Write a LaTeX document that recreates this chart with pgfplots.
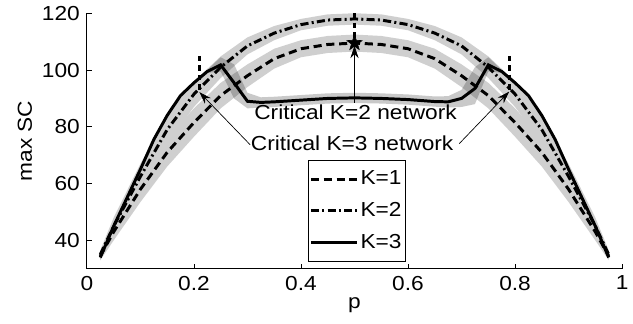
\documentclass[border=0pt]{standalone}
\usepackage{fontspec}
\setmainfont{Liberation Sans}[FakeStretch=1.12]
\usepackage{pgfplots}
\pgfplotsset{compat=1.18}
\usepackage{pgfplotstable}
\usepgfplotslibrary{fillbetween}
\usetikzlibrary{arrows.meta}

\pgfdeclareplotmark{pentagram}{%
  \pgfpathmoveto{\pgfpointpolar{90}{\pgfplotmarksize}}%
  \pgfpathlineto{\pgfpointpolar{126}{0.4\pgfplotmarksize}}%
  \pgfpathlineto{\pgfpointpolar{162}{\pgfplotmarksize}}%
  \pgfpathlineto{\pgfpointpolar{198}{0.4\pgfplotmarksize}}%
  \pgfpathlineto{\pgfpointpolar{234}{\pgfplotmarksize}}%
  \pgfpathlineto{\pgfpointpolar{270}{0.4\pgfplotmarksize}}%
  \pgfpathlineto{\pgfpointpolar{306}{\pgfplotmarksize}}%
  \pgfpathlineto{\pgfpointpolar{342}{0.4\pgfplotmarksize}}%
  \pgfpathlineto{\pgfpointpolar{18}{\pgfplotmarksize}}%
  \pgfpathlineto{\pgfpointpolar{54}{0.4\pgfplotmarksize}}%
  \pgfpathclose
  \pgfusepathqfillstroke
}

% K=1: p, mean, std
\pgfplotstableread{
p m s
0.025 34.5 1.5
0.05 43 3
0.1 58 4.5
0.15 71 5
0.2 81.5 5
0.25 91 4.5
0.3 98 4
0.35 104 3.5
0.4 107.5 3
0.45 109 3
0.5 109.5 3
0.55 109 3
0.6 107.5 3
0.65 104 3.5
0.7 98 4
0.75 91 4.5
0.8 81.5 5
0.85 71 5
0.9 58 4.5
0.95 43 3
0.975 34.5 1.5
}\kone

% K=2: p, mean, std
\pgfplotstableread{
p m s
0.025 35 1.5
0.05 45 3
0.1 62.5 4.5
0.15 79 5
0.2 91.5 4.5
0.25 101 3.8
0.3 108.5 3
0.35 113 2.5
0.4 116 2
0.45 117.6 2
0.5 118 2
0.55 117.6 2
0.6 116 2
0.65 113 2.5
0.7 108.5 3
0.75 101 3.8
0.8 91.5 4.5
0.85 79 5
0.9 62.5 4.5
0.95 45 3
0.975 35 1.5
}\ktwo

% K=3: p, mean, lower, upper
\pgfplotstableread{
p m lo hi
0.025 34 33.5 34.5
0.05 45 44.5 45.5
0.1 65 64.5 65.5
0.125 75.5 75 76
0.15 84 83.5 84.5
0.175 91 90.5 91.5
0.2 95.5 95 96
0.225 99.5 99 100
0.25 101.8 99.5 104.5
0.275 95.5 90 102
0.3 89 86.5 92
0.325 88.6 86.8 90.4
0.35 88.8 87 90.6
0.4 89.4 87.6 91.2
0.45 90 88.2 91.8
0.5 90.2 88.4 92
0.55 90 88.2 91.8
0.6 89.6 87.8 91.4
0.65 88.9 87.1 90.7
0.675 88.8 86.8 90.8
0.7 90 87 93
0.725 93.5 88 101
0.75 101.8 99.5 104.5
0.775 99.5 99 100
0.8 95.5 95 96
0.825 91 90.5 91.5
0.85 84 83.5 84.5
0.875 75.5 75 76
0.9 65 64.5 65.5
0.95 45 44.5 45.5
0.975 34 33.5 34.5
}\kthree

\begin{document}%
\fontsize{15}{18}\selectfont%
\begin{tikzpicture}
\begin{axis}[
  at={(0pt,0pt)}, anchor=south west,
  scale only axis,
  width=396.2pt, height=189.2pt,
  xmin=0, xmax=1, ymin=30, ymax=120,
  axis lines*=left,
  axis line style={black, line width=0.6pt},
  tick align=inside,
  major tick length=3.8pt,
  tick style={black, line width=0.6pt},
  xtick={0,0.2,0.4,0.6,0.8,1},
  ytick={40,60,80,100,120},
  /pgf/number format/assume math mode=true,
  xlabel={p}, ylabel={max SC},
  xlabel style={at={(axis description cs:0.5,-0.1554)}, anchor=base},
  ylabel style={at={(axis description cs:-0.1158,0.5)}, anchor=center},
  legend style={at={(axis description cs:0.4125,0.0277)}, anchor=south west,
    draw=black, line width=0.6pt, fill=white, inner xsep=1pt, inner ysep=6pt,
    row sep=7.8pt, nodes={inner sep=1.5pt}},
  legend cell align=left,
  legend image code/.code={\draw[#1] (0cm,0cm) -- (1.2cm,0cm);},
]
% bands
\addplot[draw=none, name path=aH, forget plot] table[x=p, y expr=\thisrow{m}+\thisrow{s}] {\kone};
\addplot[draw=none, name path=aL, forget plot] table[x=p, y expr=\thisrow{m}-\thisrow{s}] {\kone};
\addplot[black!19, forget plot] fill between[of=aH and aL];
\addplot[draw=none, name path=bH, forget plot] table[x=p, y expr=\thisrow{m}+\thisrow{s}] {\ktwo};
\addplot[draw=none, name path=bL, forget plot] table[x=p, y expr=\thisrow{m}-\thisrow{s}] {\ktwo};
\addplot[black!19, forget plot] fill between[of=bH and bL];
\addplot[draw=none, name path=cH, forget plot] table[x=p, y=hi] {\kthree};
\addplot[draw=none, name path=cL, forget plot] table[x=p, y=lo] {\kthree};
\addplot[black, fill opacity=0.21, draw=none, forget plot] fill between[of=cH and cL];
% mean curves
\addplot[black, line width=2.2pt, dash pattern=on 6pt off 3.5pt] table[x=p, y=m] {\kone};
\addlegendentry{K=1}
\addplot[black, line width=2.2pt, dash pattern=on 6pt off 2.4pt on 1.5pt off 2.4pt] table[x=p, y=m] {\ktwo};
\addlegendentry{K=2}
\addplot[black, line width=2.2pt] table[x=p, y=m] {\kthree};
\addlegendentry{K=3}
% critical markers
\addplot[black, line width=2.2pt, dash pattern=on 4pt off 3pt, forget plot] coordinates {(0.21,105) (0.21,92.5)};
\addplot[black, line width=2.2pt, dash pattern=on 4pt off 3pt, forget plot] coordinates {(0.79,105) (0.79,92.5)};
\addplot[black, line width=2.2pt, dash pattern=on 4pt off 3pt, forget plot] coordinates {(0.5,120) (0.5,110)};
% annotations
\draw[black, line width=0.5pt, -{Stealth[length=9pt,width=6pt]}] (axis cs:0.5,88.5) -- (axis cs:0.5,108.5);
\draw[black, line width=0.5pt, -{Stealth[length=9pt,width=6pt]}] (axis cs:0.305,73.7) -- (axis cs:0.2103,92.2);
\draw[black, line width=0.5pt, -{Stealth[length=9pt,width=6pt]}] (axis cs:0.6958,74.1) -- (axis cs:0.789,92.4);
\addplot[black, mark=pentagram, mark size=6pt, only marks, forget plot] coordinates {(0.5,109.5)};
\node at (axis cs:0.502,85.3) {Critical K=2 network};
\node at (axis cs:0.4956,74.3) {Critical K=3 network};
\end{axis}
\pgfresetboundingbox
\path[use as bounding box] (-64.3pt,-40.8pt) rectangle (404.25pt,199pt);
\end{tikzpicture}%
\end{document}
